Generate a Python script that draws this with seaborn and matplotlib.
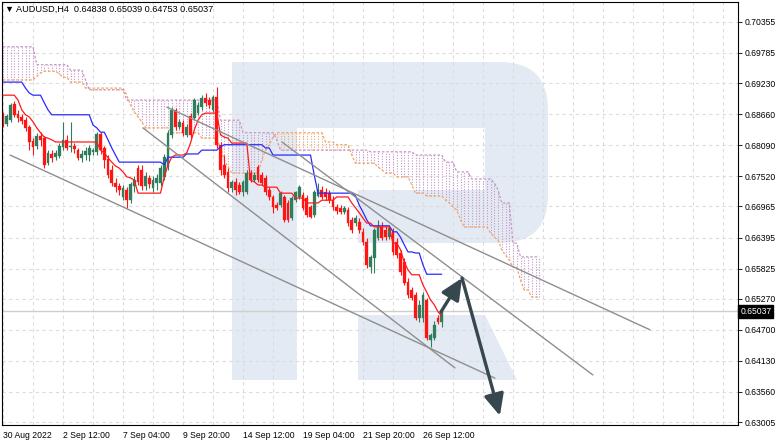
import numpy as np
import pandas as pd
import matplotlib
matplotlib.use("Agg")
import matplotlib.pyplot as plt
import matplotlib.patches as mpatches
import matplotlib.transforms as mtransforms
import seaborn as sns

# ---------------- data ----------------
header_text = "AUDUSD,H4  0.64838 0.65039 0.64753 0.65037"
last_price = 0.65037

opens = [0.6865, 0.6848, 0.6855, 0.6885, 0.6867, 0.6861, 0.6855, 0.6843, 0.6817, 0.6808,
         0.6826, 0.6822, 0.6776, 0.6793, 0.6787, 0.6789, 0.6806, 0.6819, 0.6806, 0.6808,
         0.6800, 0.6786, 0.6791, 0.6791, 0.6797, 0.6797, 0.6830, 0.6804, 0.6784, 0.6764,
         0.6740, 0.6734, 0.6714, 0.6727, 0.6708, 0.6734, 0.6767, 0.6764, 0.6734, 0.6749,
         0.6731, 0.6740, 0.6740, 0.6751, 0.6769, 0.6828, 0.6874, 0.6843, 0.6850, 0.6828,
         0.6863, 0.6859, 0.6868, 0.6879, 0.6896, 0.6892, 0.6874, 0.6898, 0.6810, 0.6773,
         0.6760, 0.6731, 0.6742, 0.6736, 0.6723, 0.6723, 0.6758, 0.6745, 0.6769, 0.6754,
         0.6749, 0.6727, 0.6714, 0.6699, 0.6699, 0.6714, 0.6703, 0.6675, 0.6708, 0.6714,
         0.6718, 0.6712, 0.6696, 0.6681, 0.6716, 0.6727, 0.6723, 0.6721, 0.6708, 0.6696,
         0.6694, 0.6686, 0.6690, 0.6672, 0.6666, 0.6668, 0.6650, 0.6631, 0.6585, 0.6602,
         0.6639, 0.6659, 0.6653, 0.6640, 0.6650, 0.6631, 0.6611, 0.6594, 0.6558, 0.6543,
         0.6534, 0.6492, 0.6492, 0.6525, 0.6451, 0.6455, 0.6492, 0.64838]
highs = [0.6870, 0.6867, 0.6887, 0.6890, 0.6874, 0.6867, 0.6861, 0.6846, 0.6822, 0.6832,
         0.6833, 0.6826, 0.6800, 0.6800, 0.6800, 0.6813, 0.6852, 0.6828, 0.6852, 0.6813,
         0.6804, 0.6800, 0.6806, 0.6810, 0.6804, 0.6833, 0.6833, 0.6808, 0.6791, 0.6773,
         0.6749, 0.6740, 0.6736, 0.6732, 0.6742, 0.6753, 0.6773, 0.6773, 0.6760, 0.6754,
         0.6753, 0.6756, 0.6773, 0.6793, 0.6837, 0.6879, 0.6878, 0.6857, 0.6855, 0.6848,
         0.6868, 0.6896, 0.6889, 0.6901, 0.6905, 0.6898, 0.6901, 0.6916, 0.6815, 0.6791,
         0.6767, 0.6745, 0.6749, 0.6742, 0.6745, 0.6764, 0.6764, 0.6760, 0.6773, 0.6760,
         0.6754, 0.6732, 0.6718, 0.6705, 0.6725, 0.6718, 0.6708, 0.6716, 0.6725, 0.6736,
         0.6723, 0.6718, 0.6699, 0.6727, 0.6740, 0.6734, 0.6731, 0.6727, 0.6716, 0.6701,
         0.6699, 0.6697, 0.6696, 0.6677, 0.6681, 0.6675, 0.6657, 0.6639, 0.6607, 0.6657,
         0.6672, 0.6668, 0.6661, 0.6662, 0.6657, 0.6639, 0.6617, 0.6602, 0.6565, 0.6549,
         0.6539, 0.6525, 0.6539, 0.6528, 0.6464, 0.6486, 0.6497, 0.65039]
lows = [0.6843, 0.6844, 0.6852, 0.6861, 0.6852, 0.6848, 0.6835, 0.6800, 0.6791, 0.6802,
        0.6808, 0.6767, 0.6773, 0.6778, 0.6782, 0.6786, 0.6800, 0.6800, 0.6797, 0.6795,
        0.6782, 0.6778, 0.6782, 0.6780, 0.6791, 0.6791, 0.6793, 0.6767, 0.6749, 0.6734,
        0.6723, 0.6718, 0.6708, 0.6694, 0.6703, 0.6723, 0.6736, 0.6727, 0.6727, 0.6731,
        0.6723, 0.6727, 0.6734, 0.6745, 0.6764, 0.6822, 0.6837, 0.6839, 0.6826, 0.6824,
        0.6822, 0.6855, 0.6865, 0.6874, 0.6881, 0.6878, 0.6870, 0.6804, 0.6754, 0.6749,
        0.6723, 0.6723, 0.6718, 0.6720, 0.6716, 0.6720, 0.6742, 0.6742, 0.6742, 0.6736,
        0.6718, 0.6708, 0.6685, 0.6690, 0.6696, 0.6668, 0.6668, 0.6672, 0.6705, 0.6710,
        0.6690, 0.6677, 0.6675, 0.6677, 0.6714, 0.6710, 0.6708, 0.6703, 0.6690, 0.6683,
        0.6683, 0.6683, 0.6661, 0.6648, 0.6661, 0.6648, 0.6626, 0.6583, 0.6574, 0.6574,
        0.6635, 0.6635, 0.6635, 0.6637, 0.6607, 0.6602, 0.6571, 0.6552, 0.6528, 0.6525,
        0.6488, 0.6484, 0.6484, 0.6451, 0.6438, 0.6451, 0.6481, 0.64753]
closes = [0.6846, 0.6863, 0.6883, 0.6865, 0.6859, 0.6854, 0.6841, 0.6815, 0.6806, 0.6826,
          0.6819, 0.6773, 0.6795, 0.6786, 0.6795, 0.6808, 0.6819, 0.6804, 0.6808, 0.6802,
          0.6786, 0.6793, 0.6798, 0.6804, 0.6800, 0.6830, 0.6800, 0.6782, 0.6754, 0.6740,
          0.6732, 0.6727, 0.6731, 0.6708, 0.6738, 0.6745, 0.6742, 0.6734, 0.6753, 0.6738,
          0.6745, 0.6749, 0.6767, 0.6787, 0.6832, 0.6874, 0.6843, 0.6852, 0.6832, 0.6843,
          0.6828, 0.6892, 0.6883, 0.6896, 0.6887, 0.6883, 0.6898, 0.6810, 0.6764, 0.6754,
          0.6731, 0.6742, 0.6727, 0.6723, 0.6742, 0.6758, 0.6745, 0.6754, 0.6745, 0.6740,
          0.6723, 0.6714, 0.6696, 0.6694, 0.6721, 0.6672, 0.6672, 0.6712, 0.6723, 0.6732,
          0.6694, 0.6681, 0.6677, 0.6723, 0.6727, 0.6714, 0.6714, 0.6708, 0.6696, 0.6688,
          0.6686, 0.6694, 0.6666, 0.6653, 0.6675, 0.6653, 0.6631, 0.6589, 0.6604, 0.6653,
          0.6659, 0.6639, 0.6640, 0.6657, 0.6613, 0.6607, 0.6576, 0.6556, 0.6534, 0.6528,
          0.6492, 0.6516, 0.6534, 0.6455, 0.6460, 0.6479, 0.6484, 0.65037]

tenkan = ([0.6901] * 4 + [0.6892, 0.6874, 0.6865, 0.6861, 0.6852, 0.6841, 0.6832, 0.6824, 0.6822, 0.6819]
          + [0.6815] * 12
          + [0.6800, 0.6795, 0.6786, 0.6778, 0.6771, 0.6767, 0.6760, 0.6751, 0.6749, 0.6745]
          + [0.6721] * 7
          + [0.6751, 0.6773, 0.6787] + [0.6791] * 3
          + [0.6795, 0.6813, 0.6837, 0.6855, 0.6865] + [0.6868] * 4
          + [0.6828, 0.6824, 0.6822] + [0.6813] * 5
          + [0.6745, 0.6742] + [0.6736] * 2 + [0.6732] * 4 + [0.6721] * 4 + [0.6712] * 3
          + [0.6703] * 4 + [0.6708] * 4 + [0.6714] * 4
          + [0.6703, 0.6694, 0.6685, 0.6675] + [0.6666] * 2 + [0.6659] * 5 + [0.6629] * 2
          + [0.6617, 0.6594, 0.6580] + [0.6571] * 3
          + [0.6552, 0.6539, 0.6525, 0.6516, 0.6503, 0.6495])
kijun = ([0.6925] * 6 + [0.6914, 0.6905] + [0.6901] * 3 + [0.6887, 0.6874]
         + [0.6865] * 11 + [0.6846, 0.6841] + [0.6833] * 2 + [0.6819, 0.6804, 0.6791]
         + [0.6778] * 12 + [0.6773] + [0.6787] * 5 + [0.6793] * 4 + [0.6800] * 5
         + [0.6806] + [0.6810] * 11 + [0.6804] * 2 + [0.6791] * 11 + [0.6754]
         + [0.6721] * 10 + [0.6716, 0.6699, 0.6686, 0.6672] + [0.6661] * 6
         + [0.6650] * 2 + [0.6640, 0.6626] + [0.6613] * 2 + [0.6611] * 2 + [0.6589]
         + [0.6572] * 5)
senkou_a = ([0.6929] * 9 + [0.6936, 0.6942] + [0.6945] * 4 + [0.6940] + [0.6934] * 2
            + [0.6925] * 4 + [0.6914] * 11 + [0.6901, 0.6883, 0.6870, 0.6861, 0.6852]
            + [0.6841] * 7 + [0.6832] * 8 + [0.6822] * 5 + [0.6804, 0.6782, 0.6769]
            + [0.6758] * 8 + [0.6782, 0.6800, 0.6810, 0.6824] + [0.6832] * 13
            + [0.6815] * 3 + [0.6810] * 4 + [0.6791] + [0.6776] * 6 + [0.6769, 0.6764]
            + [0.6758] * 3 + [0.6751] * 4 + [0.6736] + [0.6721] * 3 + [0.6716] * 5
            + [0.6708, 0.6703, 0.6696, 0.6690, 0.6672] + [0.6659] * 7
            + [0.6648, 0.6640, 0.6635, 0.6617, 0.6607, 0.6598] + [0.6585] * 2
            + [0.6561] + [0.6543] * 2 + [0.6530] * 3)
senkou_b = ([0.6990] * 9 + [0.6957] * 9 + [0.6947] * 4 + [0.6929] + [0.6911] * 10
            + [0.6892] * 25 + [0.6855] * 6 + [0.6832] * 9 + [0.6819] + [0.6800] * 24
            + [0.6797] * 12 + [0.6791] * 8 + [0.6778] * 3 + [0.6760] * 4 + [0.6747] * 6
            + [0.6740, 0.6727] + [0.6703] * 3 + [0.6629] * 2 + [0.6604] * 6)

x_tick_bars = [0, 16, 32, 48, 64, 80, 96, 112]
x_tick_labels = ["30 Aug 2022", "2 Sep 12:00", "7 Sep 04:00", "9 Sep 20:00",
                 "14 Sep 12:00", "19 Sep 04:00", "21 Sep 20:00", "26 Sep 12:00"]
y_ticks = [0.70355, 0.69785, 0.69230, 0.68660, 0.68090, 0.67520, 0.66965,
           0.66395, 0.65825, 0.65270, 0.64700, 0.64130, 0.63560, 0.63005]

# trend lines and forecast arrows, as (bar, price) pairs
trend_lines = [((1.9, 0.6791), (131.2, 0.6381)),
               ((37.3, 0.6841), (120.5, 0.6400)),
               ((43.7, 0.6879), (172.5, 0.6470)),
               ((74.4, 0.6815), (157.3, 0.6387))]
forecast_arrows = [((116.8, 0.6503), (122.4, 0.6565)),
                   ((122.4, 0.6565), (132.5, 0.6312))]

# ---------------- style ----------------
sns.set_style("white")
plt.rcParams["font.family"] = ["Liberation Sans", "DejaVu Sans"]

W, H = 782, 444
fig = plt.figure(figsize=(W / 100, H / 100), dpi=100)
ax = fig.add_axes([2 / W, 19 / H, 736 / W, 423 / H])
ax.set_xlim(-0.27, 196)
ax.set_ylim(0.6295, 0.70722)

# ---------------- watermark (decoration, pixel coords) ----------------
wm = "#e4eaf3"
ident = mtransforms.IdentityTransform()


def rect(x0, y0, x1, y1, color, z, rounded=0):
    if rounded:
        p = mpatches.FancyBboxPatch((x0, H - y1), x1 - x0, y1 - y0,
                                    boxstyle=f"round,pad=0,rounding_size={rounded}",
                                    facecolor=color, edgecolor="none",
                                    transform=ident, zorder=z)
    else:
        p = mpatches.Rectangle((x0, H - y1), x1 - x0, y1 - y0, facecolor=color,
                               edgecolor="none", transform=ident, zorder=z)
    ax.add_patch(p)


rect(232, 62, 548, 243, wm, 0.1, rounded=48)
rect(232, 62, 440, 243, wm, 0.11)
rect(297, 128, 485, 190, "white", 0.12)
rect(297, 190, 358, 243, "white", 0.12)
rect(232, 62, 297, 380, wm, 0.13)
leg = mpatches.Polygon([(358, H - 315), (485, H - 315), (517, H - 380), (358, H - 380)],
                       closed=True, facecolor=wm, edgecolor="none",
                       transform=ident, zorder=0.13)
ax.add_patch(leg)

# ---------------- grid ----------------
ax.set_axisbelow(True)
ax.set_xticks(x_tick_bars)
ax.set_xticklabels(x_tick_labels)
ax.set_xticks(np.arange(0, 196, 8), minor=True)
ax.set_yticks(y_ticks)
ax.set_yticklabels([f"{v:.5f}" for v in y_ticks])
grid_kw = dict(color="#dcdcdc", linestyle=(0, (3, 3)), linewidth=0.8)
ax.grid(which="both", axis="x", **grid_kw)
ax.grid(which="major", axis="y", **grid_kw)

# ---------------- Ichimoku cloud ----------------
sa = np.array(senkou_a)
sb = np.array(senkou_b)
cb = np.arange(len(sa))
a_up = sa > sb
ax.vlines(cb[a_up], sb[a_up], sa[a_up], colors="#eea46c", linestyles=(0, (1, 1.4)),
          linewidth=0.8, zorder=1)
ax.vlines(cb[~a_up], sa[~a_up], sb[~a_up], colors="#c796c7", linestyles=(0, (1, 1.4)),
          linewidth=0.8, zorder=1)

span_df = pd.DataFrame({"bar": cb, "a": sa, "b": sb})
sns.lineplot(data=span_df, x="bar", y="a", ax=ax, color="#f4a460", linewidth=0.9,
             linestyle=(0, (2, 1.5)), zorder=1.2, legend=False)
sns.lineplot(data=span_df, x="bar", y="b", ax=ax, color="#c596c5", linewidth=0.9,
             linestyle=(0, (2, 1.5)), zorder=1.2, legend=False)

# current price line
ax.axhline(last_price, color="#cfcfcf", linewidth=1.0, zorder=1.3)

# ---------------- candles ----------------
o = np.array(opens)
hh = np.array(highs)
ll = np.array(lows)
c = np.array(closes)
bars = np.arange(len(c))
bull = "#2f7d5c"
bear = "#ff1414"
colors = np.where(c >= o, bull, bear)
ax.vlines(bars, ll, hh, colors=colors, linewidth=0.8, zorder=2)
body_low = np.minimum(o, c)
body_h = np.maximum(np.abs(c - o), 0.00006)
ax.bar(bars, body_h, bottom=body_low, width=0.72, color=colors, edgecolor=colors,
       linewidth=0.2, zorder=2.1)

# ---------------- Tenkan / Kijun ----------------
line_df = pd.DataFrame({"bar": bars, "tenkan": tenkan, "kijun": kijun})
sns.lineplot(data=line_df, x="bar", y="kijun", ax=ax, color="#2a2aff", linewidth=0.9,
             zorder=2.5, legend=False)
sns.lineplot(data=line_df, x="bar", y="tenkan", ax=ax, color="#ff1a1a", linewidth=0.9,
             zorder=2.6, legend=False)

# ---------------- trend lines & arrows ----------------
for (x0, y0), (x1, y1) in trend_lines:
    ax.plot([x0, x1], [y0, y1], color="#8e8e8e", linewidth=1.0, zorder=3)
for (x0, y0), (x1, y1) in forecast_arrows:
    ax.annotate("", xy=(x1, y1), xytext=(x0, y0),
                arrowprops=dict(arrowstyle="-|>,head_length=1.3,head_width=0.6",
                                mutation_scale=10, color="#37474f", linewidth=2.4,
                                shrinkA=0, shrinkB=0), zorder=4)

# ---------------- axes cosmetics ----------------
ax.set_xlabel("")
ax.set_ylabel("")
ax.yaxis.tick_right()
ax.tick_params(axis="y", which="major", length=3, width=0.6, pad=2, labelsize=6.2,
               colors="black", direction="out")
ax.tick_params(axis="x", which="major", length=3, width=0.6, pad=1.5, labelsize=6.2,
               colors="black", direction="out")
ax.tick_params(axis="x", which="minor", length=0)
for lab in ax.get_xticklabels():
    lab.set_horizontalalignment("left")
for sp in ax.spines.values():
    sp.set_visible(True)
    sp.set_color("black")
    sp.set_linewidth(0.8)

# header
ax.text(0.004, 0.982, "\u25bc " + header_text, transform=ax.transAxes, fontsize=6.6,
        ha="left", va="center", color="black", zorder=6,
        family=["Liberation Sans", "DejaVu Sans"])

# price label box
trans = mtransforms.blended_transform_factory(ax.transAxes, ax.transData)
ax.text(1.003, last_price, f"{last_price:.5f}", transform=trans, fontsize=6.2,
        color="white", ha="left", va="center", clip_on=False, zorder=6,
        bbox=dict(boxstyle="square,pad=0.25", facecolor="black", edgecolor="black"))

fig.savefig("out.png", dpi=100)
